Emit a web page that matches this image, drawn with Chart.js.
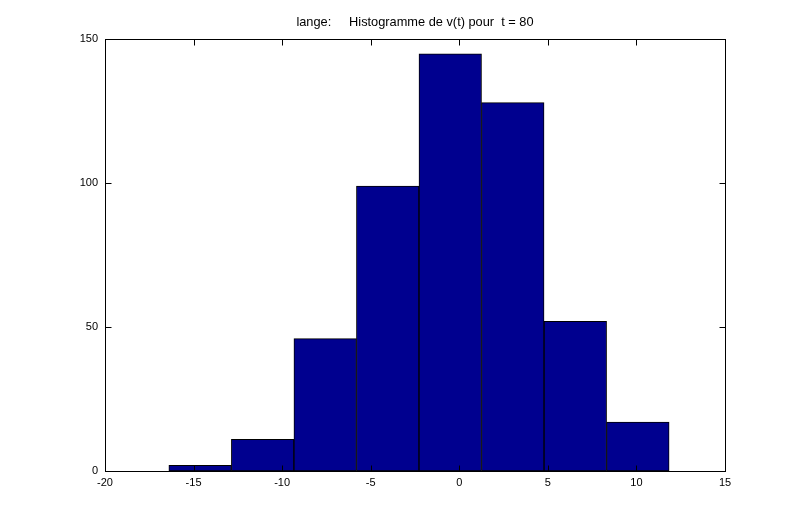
<!DOCTYPE html>
<html lang="fr">
<head>
<meta charset="UTF-8">
<title>Histogramme de v(t)</title>
<script src="https://cdn.jsdelivr.net/npm/chart.js"></script>
<style>
    body { margin: 0; background: #fff; }
</style>
</head>
<body>
<canvas id="histo" width="793" height="524"></canvas>
<script>
    // centres des classes et effectifs
    var centres = [-14.63, -11.10, -7.57, -4.04, -0.51, 3.02, 6.55, 10.08]
    var effectifs = [2, 11, 46, 99, 145, 128, 52, 17]
    var ticksX = [-20, -15, -10, -5, 0, 5, 10, 15]
    var ticksY = [0, 50, 100, 150]
    var titre = 'lange:     Histogramme de v(t) pour  t = 80'

    var police = "'Liberation Sans', Arial, sans-serif"

    // cadre + graduations vers l'interieur (style matlab)
    const cadre = {
        id: 'cadre',
        afterDatasetsDraw(chart) {
            const ctx = chart.ctx
            const a = chart.chartArea
            const sx = chart.scales.x
            const sy = chart.scales.y
            const L = Math.round(a.left) + 0.5, R = Math.round(a.right) + 0.5
            const T = Math.round(a.top) + 0.5, B = Math.round(a.bottom) + 0.5
            ctx.save()
            ctx.strokeStyle = '#000'
            ctx.lineWidth = 1
            ctx.strokeRect(L, T, R - L, B - T)
            ctx.beginPath()
            ticksX.forEach(function (v) {
                var px = Math.round(sx.getPixelForValue(v)) + 0.5
                ctx.moveTo(px, B); ctx.lineTo(px, B - 6)
                ctx.moveTo(px, T); ctx.lineTo(px, T + 6)
            })
            ticksY.forEach(function (v) {
                var py = Math.round(sy.getPixelForValue(v)) + 0.5
                ctx.moveTo(L, py); ctx.lineTo(L + 6, py)
                ctx.moveTo(R, py); ctx.lineTo(R - 6, py)
            })
            ctx.stroke()
            ctx.restore()
        }
    }

    const points = centres.map(function (c, i) { return { x: c, y: effectifs[i] } })

    const config = {
        type: 'bar',
        data: {
            datasets: [{
                data: points,
                backgroundColor: '#00008F',
                borderColor: '#000',
                borderWidth: 1,
                borderSkipped: false,
                barPercentage: 1,
                categoryPercentage: 1
            }]
        },
        options: {
            responsive: false,
            animation: false,
            layout: { padding: { left: 0, right: 68, top: 0, bottom: 0 } },
            plugins: {
                legend: { display: false },
                tooltip: { enabled: false },
                title: {
                    display: true,
                    fullSize: false,
                    text: titre,
                    color: '#000',
                    font: { family: police, size: 12.8, weight: 'normal' },
                    padding: { top: 15, bottom: 9 }
                }
            },
            scales: {
                x: {
                    type: 'linear',
                    offset: false,
                    min: -20,
                    max: 15,
                    afterBuildTicks: function (s) { s.ticks = ticksX.map(function (v) { return { value: v } }) },
                    afterFit: function (s) { s.height = 53 },
                    grid: { display: false, drawTicks: false, offset: false },
                    border: { display: false },
                    ticks: { color: '#000', padding: 5, maxRotation: 0, font: { family: police, size: 11 } }
                },
                y: {
                    min: 0,
                    max: 150,
                    afterBuildTicks: function (s) { s.ticks = ticksY.map(function (v) { return { value: v } }) },
                    afterFit: function (s) { s.width = 105 },
                    grid: { display: false, drawTicks: false },
                    border: { display: false },
                    ticks: { color: '#000', padding: 7, font: { family: police, size: 11 } }
                }
            }
        },
        plugins: [cadre]
    }

    new Chart(document.getElementById('histo'), config)
</script>
</body>
</html>
